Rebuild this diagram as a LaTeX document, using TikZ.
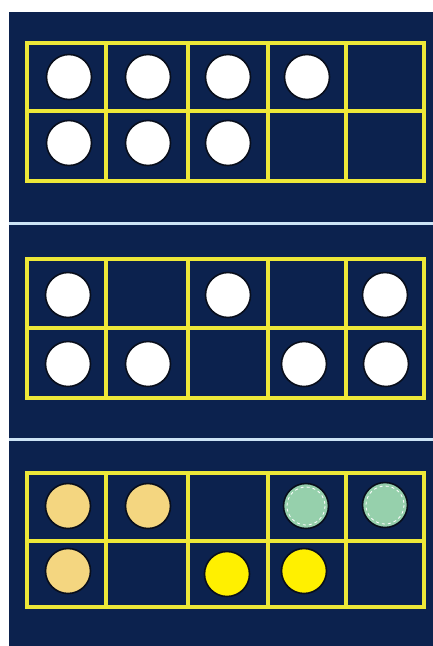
\documentclass[tikz,border=0pt]{standalone}
\usepackage{xcolor}
\usepackage{tikz}
\usetikzlibrary{positioning, calc}
\definecolor{mynavy}{RGB}{12,34,78}
\definecolor{mysep}{RGB}{205,228,245}
\definecolor{myframe}{RGB}{238,232,56}
\definecolor{mycream}{RGB}{244,214,128}
\definecolor{mymint}{RGB}{150,208,172}
\definecolor{mylemon}{RGB}{255,240,0}
\definecolor{myrim}{RGB}{8,14,28}
\tikzset{
  framebox/.style={draw=myframe, line width=3.2pt},
  counter/.style={circle, draw=myrim, line width=1.6pt, minimum size=45pt, inner sep=0pt},
  whitecounter/.style={counter, fill=white},
  creamcounter/.style={counter, fill=mycream},
  mintcounter/.style={counter, fill=mymint},
  lemoncounter/.style={counter, fill=mylemon},
  separator/.style={draw=mysep, line width=3pt}
}

\begin{document}
\begin{tikzpicture}[x=1pt, y=-1pt]
  \useasboundingbox[fill=white] (0,0) rectangle (433,646);
  \fill[mynavy] (9,12) rectangle (433,646);
  \coordinate (sepa) at (9,223);
  \coordinate (sepb) at (9,439);
  \draw[separator] (sepa) -- +(424,0);
  \draw[separator] (sepb) -- +(424,0);

  % Ten frames
  \foreach \top/\mid/\bot in {43/111/181, 259/328/398, 473/541/607} {
    \draw[framebox] (27,\top) rectangle (424,\bot);
    \draw[framebox] (27,\mid) -- (424,\mid);
    \foreach \xx in {106,188,268,346}
      \draw[framebox] (\xx,\top) -- (\xx,\bot);
  }

  % Frame 1: seven counters
  \node[whitecounter] (fa1) at (69,77) {};
  \node[whitecounter] (fa2) at (148,77) {};
  \node[whitecounter] (fa3) at (228,77) {};
  \node[whitecounter] (fa4) at (307,77) {};
  \node[whitecounter] (fa5) at (69,143) {};
  \node[whitecounter] (fa6) at (148,143) {};
  \node[whitecounter] (fa7) at (228,143) {};

  % Frame 2: scattered counters
  \node[whitecounter] (fb1) at (68,295) {};
  \node[whitecounter] (fb2) at (228,295) {};
  \node[whitecounter] (fb3) at (385,295) {};
  \node[whitecounter] (fb4) at (68,364) {};
  \node[whitecounter] (fb5) at (148,364) {};
  \node[whitecounter] (fb6) at (304,364) {};
  \node[whitecounter] (fb7) at (386,364) {};

  % Frame 3: coloured counters
  \node[creamcounter] (fc1) at (68,506) {};
  \node[creamcounter] (fc2) at (148,506) {};
  \node[creamcounter] (fc3) at (68,571) {};
  \node[mintcounter] (fc4) at (306,506) {};
  \node[mintcounter] (fc5) at (385,505) {};
  \node[lemoncounter] (fc6) at (227,574) {};
  \node[lemoncounter] (fc7) at (304,571) {};
  \draw[white, dashed, line width=0.8pt] (fc4) circle (19);
  \draw[white, dashed, line width=0.8pt] (fc5) circle (19);
\end{tikzpicture}
\end{document}
